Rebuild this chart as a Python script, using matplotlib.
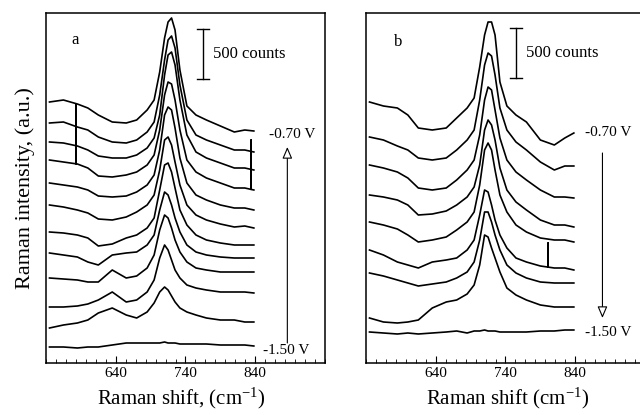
import numpy as np
import matplotlib.pyplot as plt
from matplotlib.ticker import FixedLocator

plt.rcParams['font.family'] = ['Liberation Serif', 'DejaVu Serif']
plt.rcParams['mathtext.default'] = 'regular'

# Raman shift sampling points (cm-1)
shift = [545, 565, 585, 600, 615, 635, 655, 670, 685, 695, 703, 710,
         715, 720, 725, 732, 742, 755, 770, 790, 810, 825, 838]

# panel a, stacked intensities (counts), top = -0.70 V ... bottom = -1.50 V
spectra_a = [
    [2610, 2630, 2590, 2550, 2480, 2410, 2400, 2430, 2530, 2630, 2910, 3250, 3410, 3450, 3330, 2930, 2570, 2480, 2430, 2370, 2310, 2330, 2320],
    [2400, 2410, 2360, 2330, 2260, 2210, 2200, 2230, 2310, 2410, 2680, 3030, 3230, 3270, 3150, 2780, 2430, 2280, 2230, 2180, 2130, 2130, 2110],
    [2210, 2200, 2170, 2130, 2070, 2050, 2050, 2080, 2150, 2250, 2480, 2880, 3080, 3110, 2980, 2630, 2280, 2110, 2050, 2000, 1950, 1950, 1930],
    [2030, 2010, 1990, 1950, 1870, 1860, 1880, 1910, 1980, 2080, 2330, 2680, 2810, 2790, 2630, 2330, 2030, 1910, 1850, 1800, 1750, 1750, 1730],
    [1800, 1780, 1760, 1730, 1670, 1660, 1670, 1710, 1780, 1880, 2130, 2480, 2560, 2530, 2350, 2050, 1800, 1680, 1630, 1580, 1550, 1550, 1530],
    [1580, 1560, 1530, 1500, 1440, 1430, 1460, 1510, 1580, 1680, 1930, 2230, 2260, 2180, 2010, 1780, 1580, 1480, 1430, 1390, 1360, 1370, 1350],
    [1310, 1300, 1280, 1250, 1170, 1190, 1250, 1280, 1350, 1450, 1730, 1980, 2000, 1910, 1750, 1530, 1380, 1280, 1230, 1200, 1180, 1180, 1180],
    [1100, 1080, 1060, 1010, 980, 1080, 1100, 1110, 1180, 1280, 1530, 1710, 1680, 1580, 1450, 1310, 1180, 1110, 1080, 1060, 1050, 1050, 1050],
    [850, 840, 830, 810, 810, 930, 850, 870, 950, 1080, 1330, 1480, 1450, 1350, 1230, 1110, 1010, 950, 930, 910, 910, 910, 910],
    [560, 560, 570, 590, 630, 710, 610, 630, 710, 830, 1050, 1180, 1130, 1030, 930, 850, 780, 750, 730, 710, 710, 710, 700],
    [350, 380, 400, 430, 500, 550, 480, 450, 510, 600, 710, 760, 730, 670, 610, 550, 510, 480, 450, 430, 430, 410, 410],
    [160, 160, 150, 160, 160, 180, 200, 200, 200, 200, 200, 210, 200, 200, 200, 190, 190, 190, 190, 180, 180, 180, 170],
]
# cosmic-ray spikes: (spectrum index, shift, top counts)
spikes_a = [(3, 583, 2580), (3, 834, 2230)]

# panel b, top = -0.70 V ... bottom = -1.50 V
spectra_b = [
    [2610, 2570, 2550, 2480, 2350, 2330, 2350, 2450, 2550, 2650, 2960, 3280, 3410, 3410, 3280, 2810, 2570, 2480, 2410, 2230, 2180, 2250, 2300],
    [2260, 2230, 2170, 2130, 2050, 2030, 2050, 2130, 2230, 2330, 2630, 2980, 3100, 3070, 2880, 2550, 2330, 2210, 2130, 2010, 1930, 1970, 1970],
    [1980, 1950, 1910, 1850, 1750, 1730, 1750, 1830, 1930, 2030, 2280, 2630, 2760, 2730, 2530, 2250, 2030, 1910, 1830, 1730, 1660, 1660, 1650],
    [1680, 1660, 1630, 1580, 1480, 1490, 1520, 1580, 1660, 1760, 1980, 2330, 2430, 2380, 2230, 1950, 1730, 1610, 1530, 1430, 1380, 1380, 1360],
    [1410, 1380, 1340, 1280, 1210, 1230, 1260, 1330, 1410, 1510, 1780, 2130, 2200, 2130, 1930, 1680, 1510, 1380, 1310, 1250, 1230, 1230, 1210],
    [1130, 1080, 1010, 980, 950, 1010, 1030, 1050, 1130, 1230, 1480, 1730, 1710, 1580, 1430, 1280, 1150, 1050, 1010, 970, 950, 950, 930],
    [900, 870, 830, 800, 770, 790, 810, 850, 910, 1010, 1230, 1510, 1510, 1410, 1280, 1130, 980, 900, 850, 810, 800, 800, 800],
    [450, 410, 400, 410, 430, 550, 610, 630, 690, 780, 980, 1280, 1260, 1150, 1050, 910, 750, 680, 630, 580, 560, 560, 560],
    [310, 300, 290, 300, 290, 300, 310, 320, 300, 320, 320, 330, 320, 320, 320, 310, 310, 310, 310, 320, 320, 330, 330],
]
spikes_b = [(5, 801, 1200)]


def draw(ax, spectra, spikes):
    for i, s in enumerate(spectra):
        x = np.array(shift, float)
        y = np.array(s, float)
        for k, xs, ys in spikes:
            if k == i:
                base = np.interp(xs, x, y)
                j = np.searchsorted(x, xs)
                x = np.insert(x, j, [xs, xs, xs])
                y = np.insert(y, j, [base, ys, base])
        ax.plot(x, y, color='black', lw=1.2)

    ax.set_xlim(540, 940)
    ax.set_ylim(0, 3500)
    ax.set_yticks([])
    ax.set_xticks([640, 740, 840])
    ax.xaxis.set_minor_locator(FixedLocator(np.arange(540, 941, 100 / 7)))
    ax.tick_params(axis='x', which='both', direction='in', labelsize=11, pad=3)
    ax.tick_params(axis='x', which='major', length=5)
    ax.tick_params(axis='x', which='minor', length=3)
    for sp in ax.spines.values():
        sp.set_linewidth(1.1)


def scale_bar(ax, x, y0):
    ax.plot([x, x], [y0, y0 + 500], color='black', lw=1)
    ax.plot([x - 9, x + 9], [y0, y0], color='black', lw=1)
    ax.plot([x - 9, x + 9], [y0 + 500, y0 + 500], color='black', lw=1)
    ax.text(x + 15, y0 + 250, '500 counts', fontsize=12, va='center')


fig = plt.figure(figsize=(6.4, 4.15), dpi=100)
ax1 = fig.add_axes([46 / 640, 52 / 415, 279 / 640, 350 / 415])
ax2 = fig.add_axes([366 / 640, 52 / 415, 279 / 640, 350 / 415])

draw(ax1, spectra_a, spikes_a)
draw(ax2, spectra_b, spikes_b)

ax1.text(577, 3230, 'a', fontsize=12, va='center')
ax2.text(580, 3210, 'b', fontsize=12, va='center')
scale_bar(ax1, 765, 2840)
scale_bar(ax2, 755, 2850)

arrow = dict(arrowstyle='-|>,head_width=0.3,head_length=0.7',
             fc='white', ec='black', lw=0.8, shrinkA=0, shrinkB=0)
ax1.annotate('', xy=(886, 2160), xytext=(886, 200), arrowprops=arrow)
ax1.text(859, 2280, '-0.70 V', fontsize=11, va='center')
ax1.text(851, 130, '-1.50 V', fontsize=11, va='center')

ax2.annotate('', xy=(879, 450), xytext=(879, 2100), arrowprops=arrow)
ax2.text(854, 2300, '-0.70 V', fontsize=11, va='center')
ax2.text(854, 310, '-1.50 V', fontsize=11, va='center')

fig.text(25 / 640, 1 - 188 / 415, 'Raman intensity, (a.u.)', fontsize=16,
         rotation=90, ha='center', va='center')
fig.text(181 / 640, 1 - 398 / 415, 'Raman shift, (cm$^{-1}$)', fontsize=15,
         ha='center', va='center')
fig.text(508 / 640, 1 - 398 / 415, 'Raman shift (cm$^{-1}$)', fontsize=15,
         ha='center', va='center')

fig.savefig('out.png', dpi=100)
